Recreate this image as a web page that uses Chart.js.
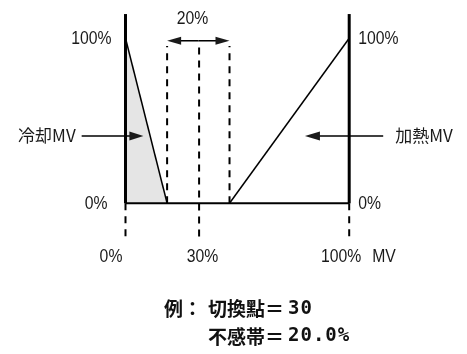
<!DOCTYPE html>
<html>
<head>
<meta charset="utf-8">
<script src="https://cdn.jsdelivr.net/npm/chart.js@4"></script>
<style>
  body { margin: 0; background: #fff; }
</style>
</head>
<body>
<canvas id="mvChart" width="467" height="354"></canvas>
<script>
// output lines (x = input %, y = MV %), as drawn in the diagram
const coolingX = [0, 18.6];
const coolingY = [100, 0];
const heatingX = [46.5, 100];
const heatingY = [0, 100];

// dead band: left edge, switching point, right edge
const bandX = [18.6, 32.9, 46.5];
const bandTop = 95.3;
const bandArrowY = 98.5;
const dropY = -21.5;
const axisTop = 114.7;

// MV label arrows (from, to) at this level
const mvArrowY = 40.8;
const coolArrowX = [-19.6, 8.0];
const heatArrowX = [115.2, 80.2];

// tick labels
const sideTicks = [0, 100];
const sideLabels = ['0%', '100%'];
const bottomTicks = [0, 32.9, 100];
const bottomLabels = ['0%', '30%', '100%'];
const bandLabel = '20%';
const coolLabel = '冷却MV';
const heatLabel = '加熱MV';
const noteLines = [['例：', '切換點＝', '30'], ['', '不感帯＝', '20.0%']];

const pts = (xs, ys) => xs.map((v, i) => ({ x: v, y: ys[i] }));
const vline = (xv, y0, y1) => [{ x: xv, y: y0 }, { x: xv, y: y1 }];

function line(data, width, dash) {
  return {
    data: data,
    showLine: true,
    borderColor: '#000',
    borderWidth: width,
    borderDash: dash || [],
    pointRadius: 0,
    fill: false,
    clip: false
  };
}

const dash = [7, 6];
const datasets = [
  line(vline(0, 0, axisTop), 3),
  line(vline(100, 0, axisTop), 3),
  line(pts(coolingX, coolingY), 1.5),
  line(pts(heatingX, heatingY), 1.5),
  line(vline(0, 0, dropY), 2, dash),
  line(vline(100, 0, dropY), 2, dash),
  line(vline(bandX[0], 0, bandTop), 2, dash),
  line(vline(bandX[1], dropY + 1.4, bandTop), 2, dash),
  line(vline(bandX[2], 0, bandTop), 2, dash),
  line([{ x: 0, y: 0 }, { x: 100, y: 0 }], 2),
  Object.assign(line(pts(coolingX, coolingY), 0), { fill: 'origin', backgroundColor: '#e5e5e5' })
];

// arrow with a filled head at (x2, y2), pixels
function arrow(ctx, x1, y1, x2, y2, len, half) {
  const dir = Math.sign(x2 - x1);
  ctx.beginPath();
  ctx.moveTo(x1, y1);
  ctx.lineTo(x2 - dir * len * 0.6, y2);
  ctx.stroke();
  ctx.beginPath();
  ctx.moveTo(x2, y2);
  ctx.lineTo(x2 - dir * len, y2 - half);
  ctx.lineTo(x2 - dir * len, y2 + half);
  ctx.closePath();
  ctx.fill();
}

// narrow text: the diagram uses a slightly condensed face
function narrowText(ctx, text, px, py, align) {
  const sx = 0.9;
  ctx.save();
  ctx.translate(px, py);
  ctx.scale(sx, 1);
  ctx.textAlign = align;
  ctx.fillText(text, 0, 0);
  ctx.restore();
}

const overlay = {
  id: 'overlay',
  afterDatasetsDraw(chart) {
    const { ctx, scales: { x, y } } = chart;
    const x0 = x.getPixelForValue(0), x100 = x.getPixelForValue(100);
    ctx.save();
    ctx.fillStyle = '#1a1a1a';
    ctx.strokeStyle = '#000';
    ctx.lineWidth = 1.5;

    // dead band arrow
    const by = y.getPixelForValue(bandArrowY);
    const bl = x.getPixelForValue(bandX[0]), br = x.getPixelForValue(bandX[2]);
    arrow(ctx, (bl + br) / 2, by, bl, by, 14, 4);
    arrow(ctx, (bl + br) / 2, by, br, by, 14, 4);

    // MV arrows
    const my = y.getPixelForValue(mvArrowY);
    arrow(ctx, x.getPixelForValue(coolArrowX[0]), my, x.getPixelForValue(coolArrowX[1]), my, 14, 4.5);
    arrow(ctx, x.getPixelForValue(heatArrowX[0]), my, x.getPixelForValue(heatArrowX[1]), my, 15, 4.5);

    ctx.font = '17.5px "Liberation Sans", Arial, sans-serif';
    ctx.textBaseline = 'middle';

    // side tick labels
    sideTicks.forEach((v, i) => {
      const py = y.getPixelForValue(v) + 1;
      narrowText(ctx, sideLabels[i], x0 - (v ? 14 : 18), py, 'right');
      narrowText(ctx, sideLabels[i], x100 + 9, py, 'left');
    });

    // bottom tick labels
    const shift = [-14.5, 3.5, -8];
    const ty = y.getPixelForValue(0) + 54;
    bottomTicks.forEach((v, i) => {
      narrowText(ctx, bottomLabels[i], x.getPixelForValue(v) + shift[i], ty, 'center');
    });
    narrowText(ctx, 'MV', x100 + 23, ty, 'left');

    // band label
    narrowText(ctx, bandLabel, x.getPixelForValue(bandX[1]) - 6.5, by - 22, 'center');

    // MV names
    ctx.font = '17px "Noto Sans CJK JP", sans-serif';
    ctx.textAlign = 'right';
    ctx.fillText(coolLabel, x.getPixelForValue(coolArrowX[0]) - 6, my);
    ctx.textAlign = 'left';
    ctx.fillText(heatLabel, x.getPixelForValue(heatArrowX[0]) + 12, my);

    // example notes
    ctx.fillStyle = '#111';
    noteLines.forEach((parts, i) => {
      const ny = 309 + i * 27.5;
      ctx.font = 'bold 19px "Noto Sans CJK JP", sans-serif';
      ctx.fillText(parts[0], 164, ny);
      ctx.fillText(parts[1], 208, ny);
      const w = ctx.measureText(parts[1]).width;
      ctx.font = 'bold 19px "DejaVu Sans Mono", monospace';
      ctx.letterSpacing = '1px';
      ctx.fillText(parts[2], 208 + w + 4, ny);
      ctx.letterSpacing = '0px';
    });
    ctx.restore();
  }
};

new Chart(document.getElementById('mvChart'), {
  type: 'scatter',
  data: { datasets: datasets },
  options: {
    responsive: false,
    animation: false,
    layout: { padding: { left: 125.5, right: 117.8, top: 13.55, bottom: 109.45 } },
    scales: {
      x: { type: 'linear', min: 0, max: 100, display: false },
      y: { type: 'linear', min: -25, max: 115, display: false }
    },
    plugins: { legend: { display: false }, tooltip: { enabled: false } }
  },
  plugins: [overlay]
});
</script>
</body>
</html>
